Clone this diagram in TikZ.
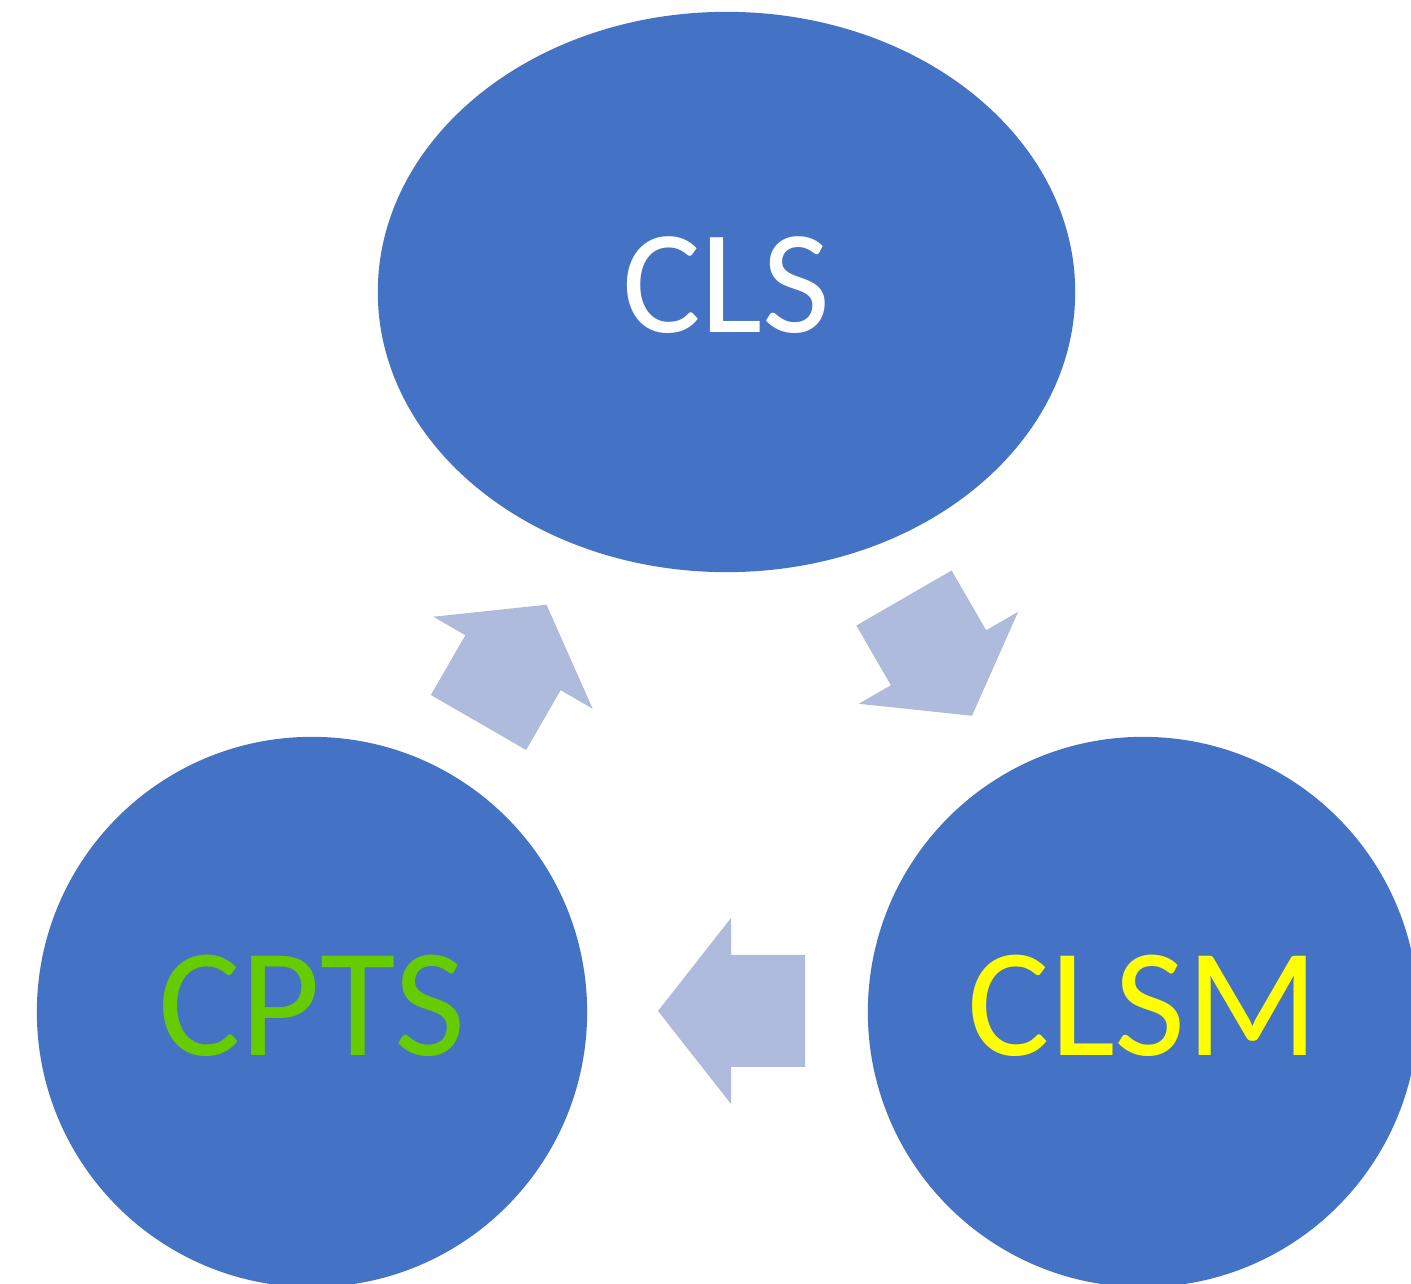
\documentclass[tikz,border=0pt]{standalone}
\usepackage{fontspec}
\setmainfont{Carlito}
\usetikzlibrary{shapes.geometric}

\definecolor{cycleblue}{RGB}{68,114,196}
\definecolor{arrowblue}{RGB}{175,187,221}
\definecolor{cptsgreen}{RGB}{102,204,0}
\definecolor{clsmyellow}{RGB}{255,255,0}

\begin{document}
\begin{tikzpicture}[x=0.01cm,y=0.01cm,
    stage/.style={fill=cycleblue, inner sep=0pt, text depth=0.14cm},
    cyclearrow/.style={fill=arrowblue}]
    \useasboundingbox (0,0) rectangle (1411,1284);

    \coordinate (tailA) at (478.5,561.5);
    \coordinate (tailB) at (904,686);
    \coordinate (tailC) at (805,273);

    \node[stage, ellipse, minimum width=6.97cm, minimum height=5.6cm, text=white,
          font=\fontsize{42}{50}\selectfont] (cls) at (726.5,992) {CLS};
    \node[stage, circle, minimum size=5.5cm, text=cptsgreen,
          font=\fontsize{44}{52}\selectfont] (cpts) at (312,272) {CPTS};
    \node[stage, circle, minimum size=5.5cm, text=clsmyellow,
          font=\fontsize{44}{52}\selectfont] (clsm) at (1143,272) {CLSM};

    % cpts -> cls
    \fill[cyclearrow, shift={(tailA)}, rotate=60] (0,55) -- ++(69,0) -- ++(0,37) -- ++(67,-92) -- ++(-67,-92) -- ++(0,37) -- ++(-69,0) -- cycle;
    % cls -> clsm
    \fill[cyclearrow, shift={(tailB)}, rotate=-60] (0,55) -- ++(69,0) -- ++(0,37) -- ++(67,-92) -- ++(-67,-92) -- ++(0,37) -- ++(-69,0) -- cycle;
    % clsm -> cpts
    \fill[cyclearrow, shift={(tailC)}, rotate=180] (0,56) -- ++(74,0) -- ++(0,37) -- ++(73,-93) -- ++(-73,-93) -- ++(0,37) -- ++(-74,0) -- cycle;

\end{tikzpicture}
\end{document}
